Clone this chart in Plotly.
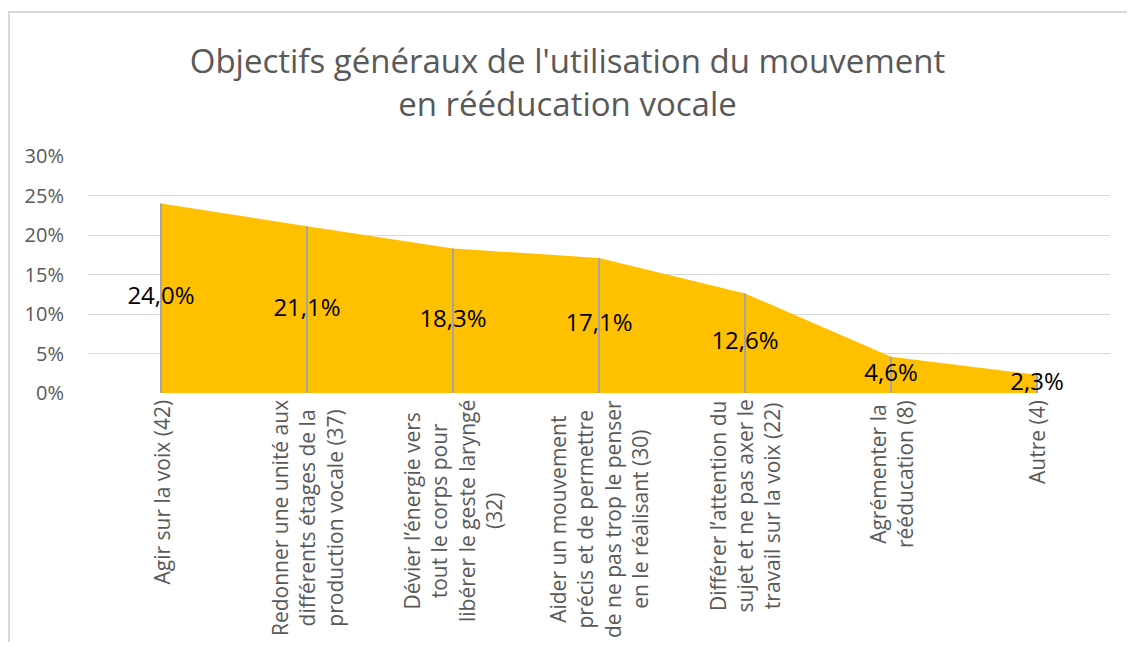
"""Area chart: objectifs généraux de l'utilisation du mouvement."""

import plotly.graph_objects as go

# --- data -------------------------------------------------------------
categories = [
    "Agir sur la voix (42)",
    "Redonner une unité aux<br>différents étages de la<br>production vocale (37)",
    "Dévier l’énergie vers<br>tout le corps pour<br>libérer le geste laryngé<br>(32)",
    "Aider un mouvement<br>précis et de permettre<br>de ne pas trop le penser<br>en le réalisant (30)",
    "Différer l’attention du<br>sujet et ne pas axer le<br>travail sur la voix (22)",
    "Agrémenter la<br>rééducation (8)",
    "Autre (4)",
]
counts = [42, 37, 32, 30, 22, 8, 4]
percent = [24.0, 21.1, 18.3, 17.1, 12.6, 4.6, 2.3]
y_ticks = [0, 5, 10, 15, 20, 25, 30]

TITLE = "Objectifs généraux de l'utilisation du mouvement<br>en rééducation vocale"

# --- layout constants (pixels, page coordinates) ------------------------
PAGE_W, PAGE_H = 1135, 650
BODY = 8                       # default html body margin
W, H = PAGE_W - 2 * BODY, PAGE_H - 2 * BODY
PLOT_L, PLOT_R, PLOT_T, PLOT_B = 88, 1110, 156, 393   # wanted plot box on page
M_L, M_T = PLOT_L - BODY, PLOT_T - BODY
M_R = W - M_L - (PLOT_R - PLOT_L)
M_B = H - M_T - (PLOT_B - PLOT_T)
PLOT_W = PLOT_R - PLOT_L
PLOT_H = PLOT_B - PLOT_T

GREY_TXT = "#595959"
GRID = "#D9D9D9"
FILL = "#FFC000"
FONT = "Open Sans"

fig = go.Figure()

# filled area
fig.add_trace(go.Scatter(
    x=categories,
    y=percent,
    mode="lines",
    fill="tozeroy",
    fillcolor=FILL,
    line={"width": 0, "color": FILL},
    hoverinfo="skip",
    showlegend=False,
))

# drop lines at every point
drop_x, drop_y = [], []
for c, v in zip(categories, percent):
    drop_x += [c, c, None]
    drop_y += [0, v, None]
fig.add_trace(go.Scatter(
    x=drop_x,
    y=drop_y,
    mode="lines",
    line={"width": 2, "color": "#A5A5A5"},
    hoverinfo="skip",
    showlegend=False,
))

# centred data labels
fig.add_trace(go.Scatter(
    x=categories,
    y=[v / 2 for v in percent],
    mode="text",
    text=[f"{v:.1f}".replace(".", ",") + "%" for v in percent],
    textposition="middle center",
    textfont={"family": FONT, "size": 24, "color": "#000000"},
    hoverinfo="skip",
    showlegend=False,
))

# rotated category labels, lines centred like Excel
annotations = []
for c in categories:
    annotations.append({
        "x": c, "y": 0,
        "xref": "x", "yref": "paper",
        "text": c,
        "textangle": -90,
        "align": "center",
        "xanchor": "center", "yanchor": "top",
        "yshift": -5,
        "showarrow": False,
        "font": {"family": FONT, "size": 21, "color": GREY_TXT},
    })

# chart border (light grey frame around the whole chart)
border = {
    "type": "rect",
    "xref": "paper", "yref": "paper",
    "x0": (9 - PLOT_L) / PLOT_W, "x1": (PAGE_W + 20 - PLOT_L) / PLOT_W,
    "y0": (PLOT_B - PAGE_H - 20) / PLOT_H, "y1": (PLOT_B - 12) / PLOT_H,
    "line": {"color": GRID, "width": 2},
    "layer": "below",
}

fig.update_layout(
    width=W, height=H,
    template="none",
    paper_bgcolor="white",
    plot_bgcolor="white",
    margin={"l": M_L, "r": M_R, "t": M_T, "b": M_B},
    title={
        "text": TITLE,
        "x": (PAGE_W / 2 - BODY) / W, "xref": "container", "xanchor": "center",
        "y": 1 - (73 - BODY) / H, "yref": "container", "yanchor": "middle",
        "font": {"family": FONT, "size": 33, "color": GREY_TXT},
    },
    xaxis={
        "type": "category",
        "range": [-0.5, len(categories) - 0.5],
        "showticklabels": False,
        "showgrid": False,
        "zeroline": False,
        "showline": False,
        "ticks": "",
        "automargin": False,
    },
    yaxis={
        "range": [0, 30],
        "tickvals": y_ticks,
        "ticktext": [f"{t}%" for t in y_ticks],
        "showgrid": True,
        "gridcolor": GRID,
        "gridwidth": 1,
        "zeroline": False,
        "showline": False,
        "ticks": "",
        "ticklabelstandoff": 23,
        "tickfont": {"family": FONT, "size": 20, "color": GREY_TXT},
        "automargin": False,
    },
    annotations=annotations,
    shapes=[border],
    showlegend=False,
)

fig.write_html("out.html")
